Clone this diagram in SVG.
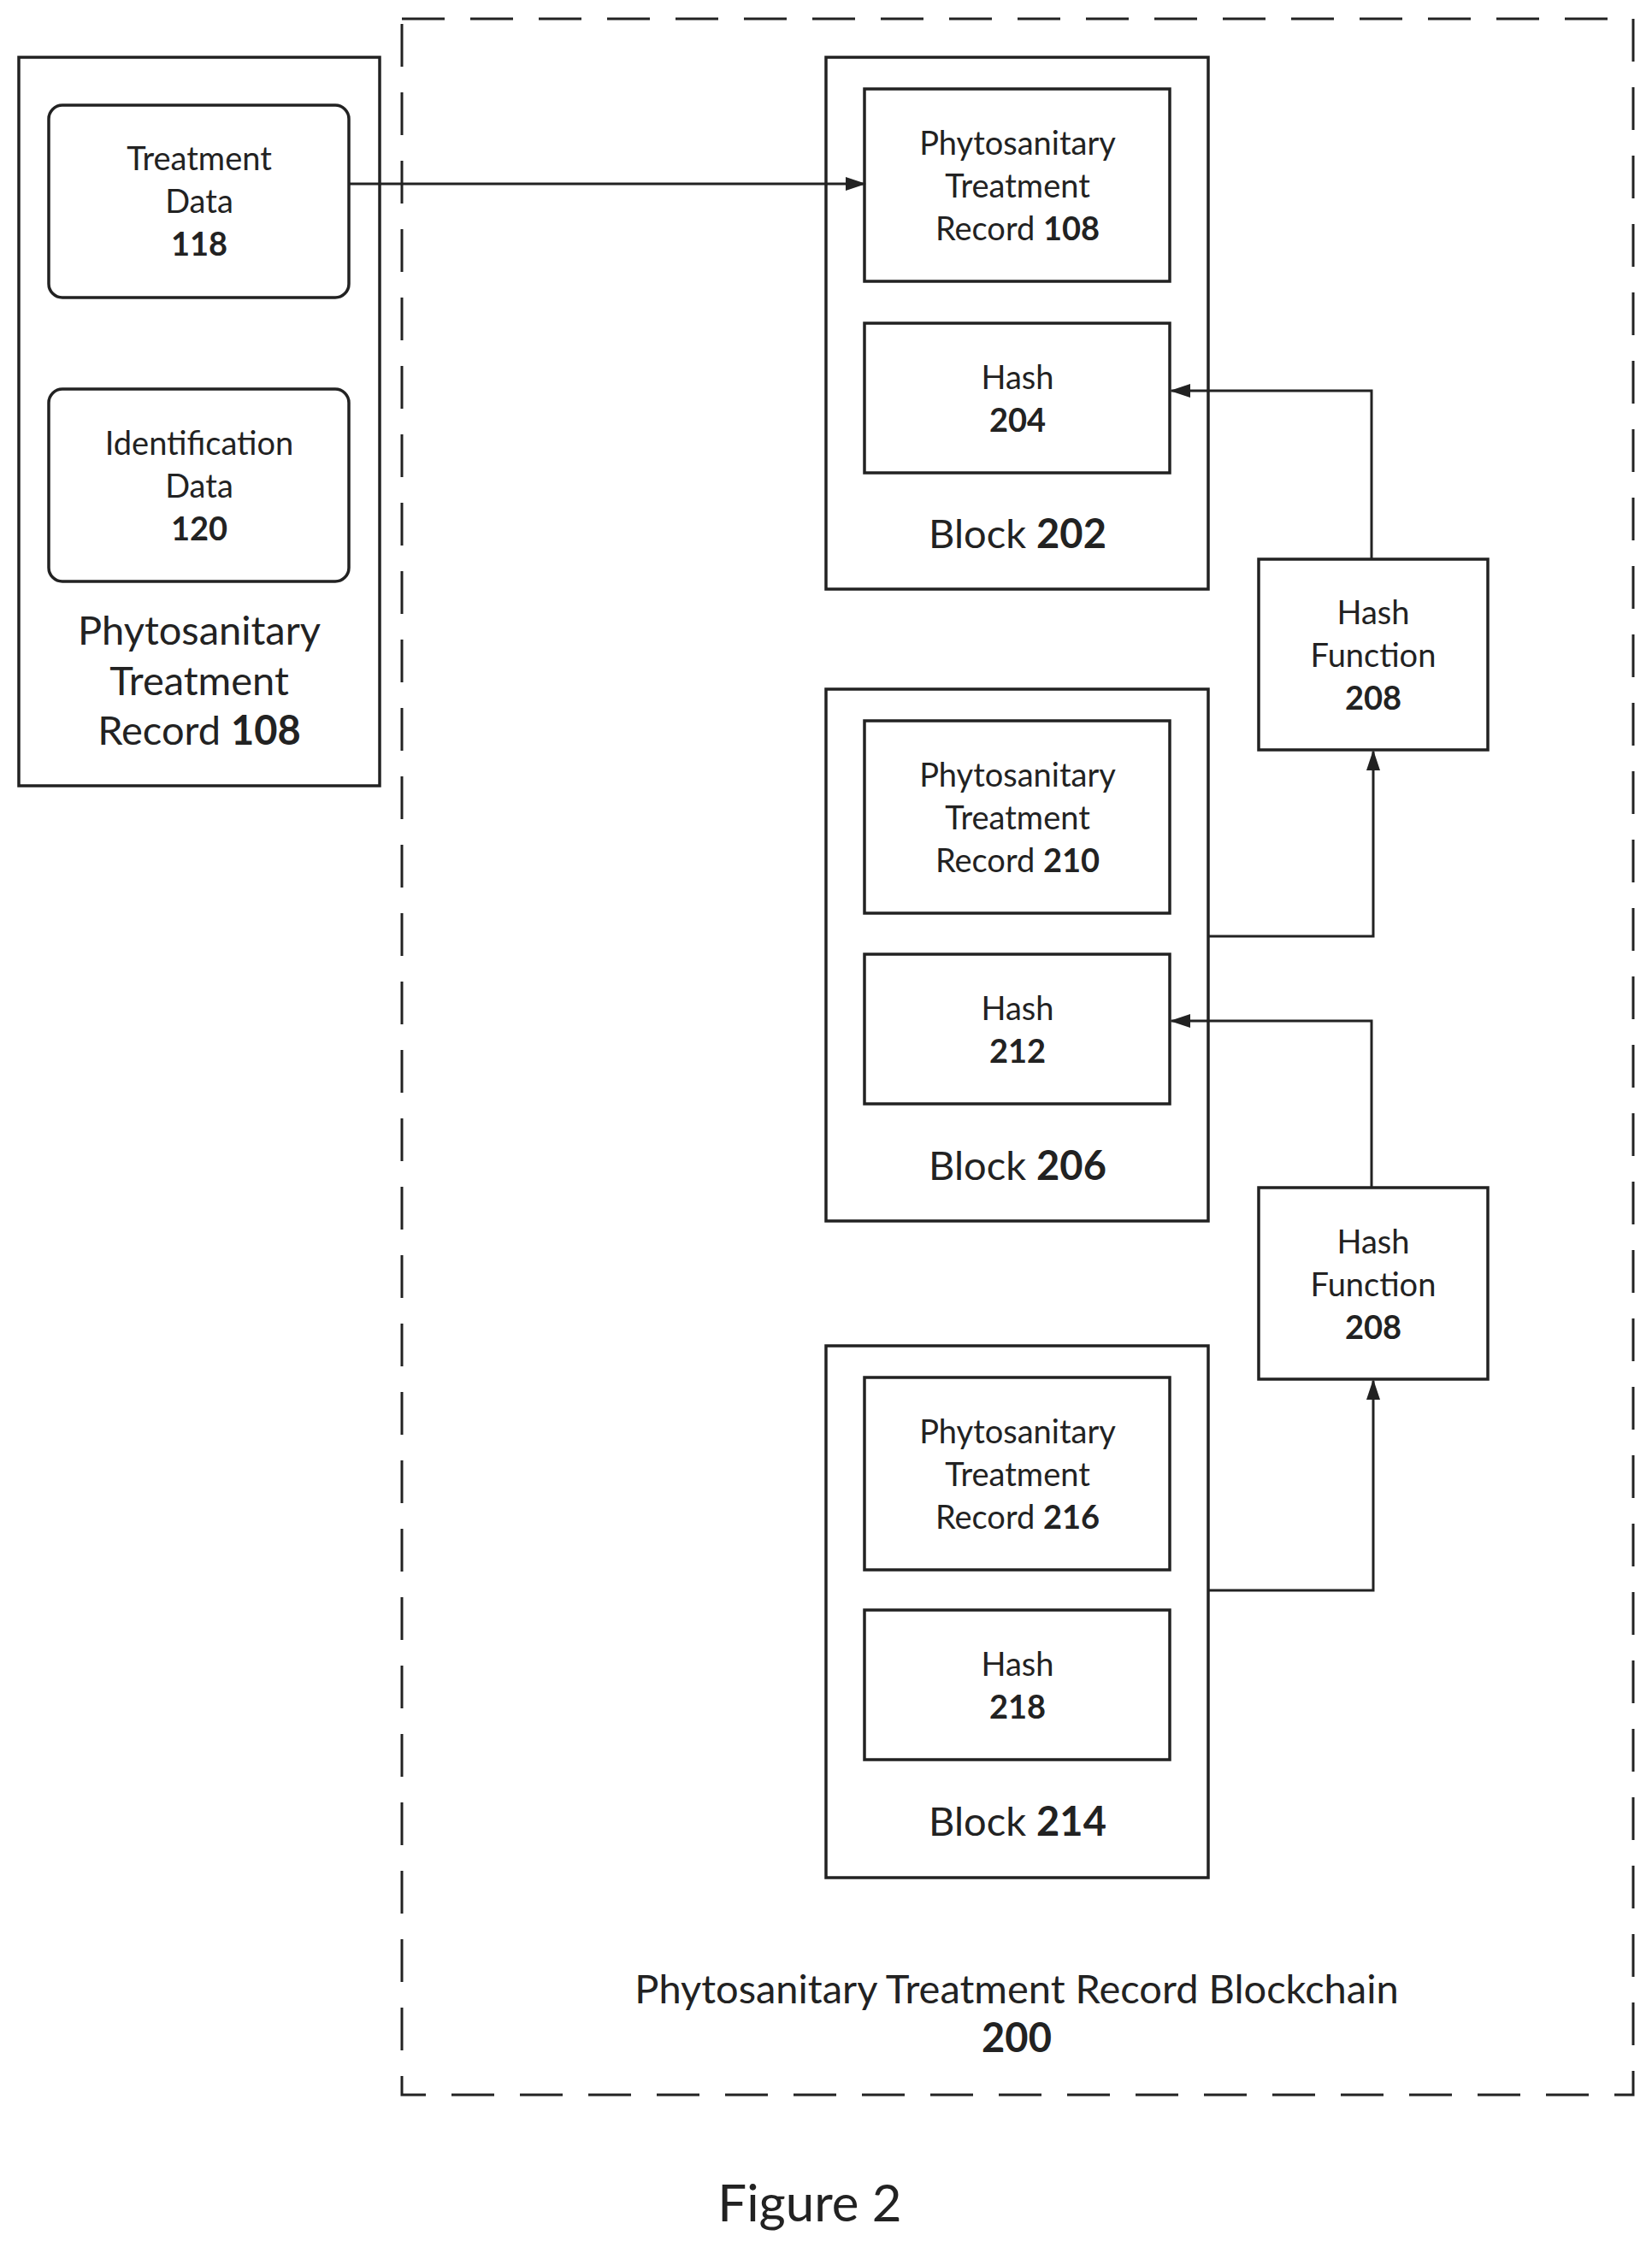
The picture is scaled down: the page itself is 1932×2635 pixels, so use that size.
<svg xmlns="http://www.w3.org/2000/svg" width="1932" height="2635" viewBox="0 0 1932 2635">
<style>
.b{fill:#fff;stroke:#222;stroke-width:3.5}
.t{font-family:Lato,"Open Sans",sans-serif;font-size:38px;fill:#222;text-anchor:middle;dominant-baseline:central}
.l{font-size:47px}
.n{font-weight:bold}
.c{fill:none;stroke:#222;stroke-width:3}
</style>
<defs><marker id="a" markerWidth="10" markerHeight="10" refX="9" refY="5" orient="auto" markerUnits="userSpaceOnUse"><path d="M0,0 L10,5 L0,10 Z" fill="#222"/></marker>
<marker id="ah" markerWidth="24" markerHeight="16" refX="22" refY="8" orient="auto" markerUnits="userSpaceOnUse"><path d="M0,0 L24,8 L0,16 Z" fill="#222"/></marker></defs>
<rect width="1932" height="2635" fill="#fff"/>
<g id="frame"><rect x="470" y="22" width="1440" height="2428" fill="none" stroke="#222" stroke-width="3" stroke-dasharray="50,30"/>
<text class="t l" x="1189" y="2325">Phytosanitary Treatment Record Blockchain</text><text class="t l n" x="1189" y="2382">200</text></g>
<g id="ptr108"><rect class="b" x="22" y="67" width="422" height="852"/>
<text class="t l" x="233" y="736">Phytosanitary</text><text class="t l" x="233" y="795">Treatment</text><text class="t l" x="233" y="853">Record <tspan class="n">108</tspan></text></g>
<g id="td118"><rect class="b" x="57" y="123" width="351" height="225" rx="16"/>
<text class="t" x="233" y="184">Treatment</text><text class="t" x="233" y="234">Data</text><text class="t n" x="233" y="284">118</text></g>
<g id="id120"><rect class="b" x="57" y="455" width="351" height="225" rx="16"/>
<text class="t" x="233" y="517">Identification</text><text class="t" x="233" y="567">Data</text><text class="t n" x="233" y="617">120</text></g>
<g id="block202"><rect class="b" x="966" y="67" width="447" height="622"/><text class="t l" x="1190" y="623">Block <tspan class="n">202</tspan></text></g>
<g id="r108"><rect class="b" x="1011" y="104" width="357" height="225"/><text class="t" x="1190" y="166">Phytosanitary</text><text class="t" x="1190" y="216">Treatment</text><text class="t" x="1190" y="266">Record <tspan class="n">108</tspan></text></g>
<g id="h204"><rect class="b" x="1011" y="378" width="357" height="175"/><text class="t" x="1190" y="440">Hash</text><text class="t n" x="1190" y="490">204</text></g>
<g id="block206"><rect class="b" x="966" y="806" width="447" height="622"/><text class="t l" x="1190" y="1362">Block <tspan class="n">206</tspan></text></g>
<g id="r210"><rect class="b" x="1011" y="843" width="357" height="225"/><text class="t" x="1190" y="905">Phytosanitary</text><text class="t" x="1190" y="955">Treatment</text><text class="t" x="1190" y="1005">Record <tspan class="n">210</tspan></text></g>
<g id="h212"><rect class="b" x="1011" y="1116" width="357" height="175"/><text class="t" x="1190" y="1178">Hash</text><text class="t n" x="1190" y="1228">212</text></g>
<g id="block214"><rect class="b" x="966" y="1574" width="447" height="622"/><text class="t l" x="1190" y="2129">Block <tspan class="n">214</tspan></text></g>
<g id="r216"><rect class="b" x="1011" y="1611" width="357" height="225"/><text class="t" x="1190" y="1673">Phytosanitary</text><text class="t" x="1190" y="1723">Treatment</text><text class="t" x="1190" y="1773">Record <tspan class="n">216</tspan></text></g>
<g id="h218"><rect class="b" x="1011" y="1883" width="357" height="175"/><text class="t" x="1190" y="1945">Hash</text><text class="t n" x="1190" y="1995">218</text></g>
<g id="hf1"><rect class="b" x="1472" y="654" width="268" height="223"/><text class="t" x="1606" y="715">Hash</text><text class="t" x="1606" y="765">Function</text><text class="t n" x="1606" y="815">208</text></g>
<g id="hf2"><rect class="b" x="1472" y="1389" width="268" height="224"/><text class="t" x="1606" y="1451">Hash</text><text class="t" x="1606" y="1501">Function</text><text class="t n" x="1606" y="1551">208</text></g>
<g id="connectors">
<path class="c" d="M408,215 H1011" marker-end="url(#ah)"/>
<path class="c" d="M1604,654 V457 H1370" marker-end="url(#ah)"/>
<path class="c" d="M1413,1095 H1606 V879" marker-end="url(#ah)"/>
<path class="c" d="M1604,1389 V1194 H1370" marker-end="url(#ah)"/>
<path class="c" d="M1413,1860 H1606 V1615" marker-end="url(#ah)"/>
</g>
<text class="t" x="947" y="2575" style="font-size:60px">Figure 2</text>
</svg>
